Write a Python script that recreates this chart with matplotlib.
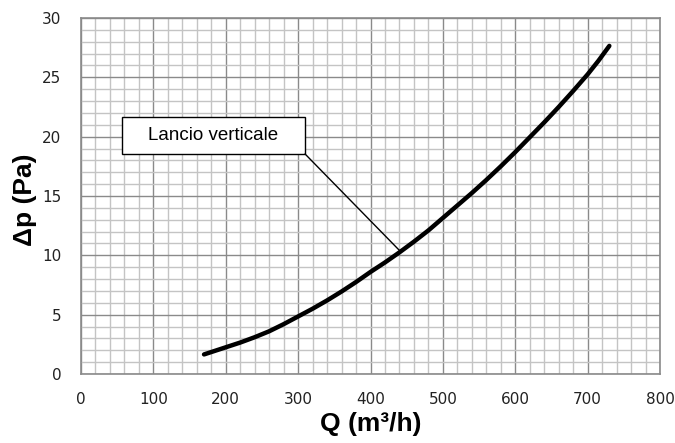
import matplotlib
matplotlib.use("Agg")
import matplotlib.pyplot as plt
from matplotlib.ticker import MultipleLocator
from matplotlib.patches import Rectangle

# Data
q_values = [170, 200, 220, 240, 260, 280, 300, 320, 340, 360, 380, 400, 420, 440,
            460, 480, 500, 520, 540, 560, 580, 600, 620, 640, 660, 680, 700, 715, 730]
dp_values = [1.65, 2.25, 2.65, 3.1, 3.6, 4.2, 4.85, 5.5, 6.2, 6.95, 7.75, 8.6, 9.4, 10.25,
             11.15, 12.1, 13.15, 14.2, 15.25, 16.35, 17.5, 18.7, 19.95, 21.2, 22.5, 23.85,
             25.25, 26.4, 27.65]
x_ticks = [0, 100, 200, 300, 400, 500, 600, 700, 800]
y_ticks = [0, 5, 10, 15, 20, 25, 30]
annotation_text = "Lancio verticale"
annotation_point = (441, 10.35)

fig = plt.figure(figsize=(6.75, 4.43), dpi=100)
ax = fig.add_axes([81/675, 1 - 374/443, (660-81)/675, (374-18)/443])

ax.set_xlim(0, 800)
ax.set_ylim(0, 30)
ax.set_xticks(x_ticks)
ax.set_yticks(y_ticks)
ax.xaxis.set_minor_locator(MultipleLocator(20))
ax.yaxis.set_minor_locator(MultipleLocator(1))
ax.grid(which="minor", color="#c4c4c4", linewidth=1.0)
ax.grid(which="major", color="#8a8a8a", linewidth=1.0)
ax.set_axisbelow(True)
ax.tick_params(which="both", length=0)
ax.tick_params(axis="x", pad=13, labelsize=11)
ax.tick_params(axis="y", pad=14, labelsize=11)
for lab in ax.get_xticklabels() + ax.get_yticklabels():
    lab.set_color("#222222")
for s in ax.spines.values():
    s.set_color("#8a8a8a")
    s.set_linewidth(1.2)

ax.plot(q_values, dp_values, color="black", linewidth=3.2, solid_capstyle="round",
        solid_joinstyle="round", zorder=3)

# Annotation box, text and leader line
box_left, box_right, box_bottom, box_top = 0.0708, 0.387, 0.618, 0.722
ax.add_patch(Rectangle((box_left, box_bottom), box_right - box_left, box_top - box_bottom,
                       transform=ax.transAxes, fc="white", ec="black", lw=1.0, zorder=4))
ax.text((box_left + box_right) / 2, (box_bottom + box_top) / 2, annotation_text,
        transform=ax.transAxes, ha="center", va="center", fontsize=13.5,
        family="Liberation Sans", zorder=5)
ax.annotate("", xy=annotation_point, xycoords="data",
            xytext=(box_right, box_bottom), textcoords="axes fraction",
            arrowprops=dict(arrowstyle="-", color="black", lw=1.0, shrinkA=0, shrinkB=0),
            zorder=4)

ax.set_xlabel("Q (m³/h)", fontsize=19, fontweight="bold", family="Liberation Sans")
ax.set_ylabel("Δp (Pa)", fontsize=19, fontweight="bold", family="Liberation Sans")
ax.xaxis.set_label_coords(0.5, -0.108)
ax.yaxis.set_label_coords(-0.076, 0.49)

fig.savefig("out.png", dpi=100)
